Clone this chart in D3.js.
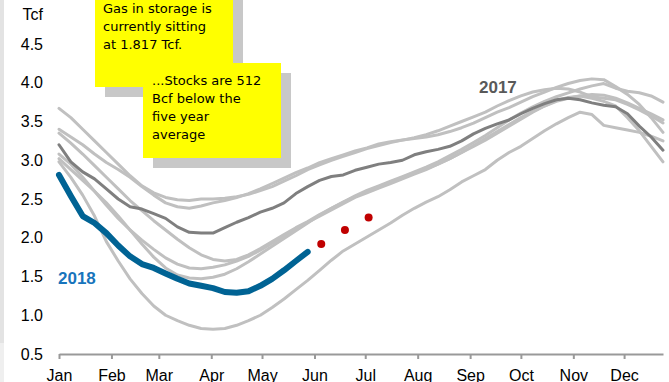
<!DOCTYPE html>
<html>
<head>
<meta charset="utf-8">
<script src="https://cdn.jsdelivr.net/npm/d3@7/dist/d3.min.js"></script>
<style>
  html, body { margin: 0; padding: 0; background: #ffffff; }
  svg { display: block; }
</style>
</head>
<body>
<svg id="chart" width="669" height="382"></svg>
<script>
// Working gas in storage, weekly, Tcf (index 0 = first week of January)
const monthLabels = ["Jan","Feb","Mar","Apr","May","Jun","Jul","Aug","Sep","Oct","Nov","Dec"];
const monthStartDays = [0,31,59,90,120,151,181,212,243,273,304,334];
const yTickValues = [0.5,1.0,1.5,2.0,2.5,3.0,3.5,4.0,4.5];

const s2011 = [3.08,2.95,2.78,2.60,2.42,2.25,2.10,1.97,1.85,1.74,1.66,1.61,1.60,1.62,1.65,1.70,1.76,1.84,1.93,2.02,2.11,2.20,2.28,2.36,2.44,2.52,2.58,2.64,2.70,2.76,2.82,2.88,2.95,3.02,3.10,3.19,3.28,3.37,3.46,3.55,3.63,3.70,3.76,3.80,3.83,3.85,3.84,3.80,3.74,3.67,3.60,3.52];
const s2012 = [3.40,3.30,3.20,3.08,2.97,2.88,2.78,2.66,2.55,2.45,2.40,2.38,2.41,2.45,2.48,2.52,2.57,2.63,2.70,2.77,2.84,2.90,2.97,3.02,3.07,3.12,3.16,3.21,3.24,3.26,3.29,3.33,3.38,3.44,3.50,3.56,3.62,3.70,3.77,3.83,3.88,3.91,3.93,3.92,3.88,3.82,3.80,3.78,3.72,3.65,3.57,3.48];
const s2013 = [3.35,3.22,3.08,2.93,2.78,2.63,2.48,2.35,2.22,2.10,1.98,1.87,1.78,1.72,1.70,1.72,1.78,1.86,1.95,2.04,2.13,2.21,2.30,2.38,2.46,2.53,2.60,2.66,2.72,2.78,2.84,2.89,2.95,3.02,3.10,3.18,3.26,3.35,3.44,3.53,3.62,3.70,3.77,3.81,3.83,3.80,3.76,3.70,3.55,3.38,3.18,2.98];
const s2014 = [2.98,2.78,2.55,2.28,1.95,1.70,1.47,1.28,1.12,1.00,0.93,0.87,0.83,0.82,0.83,0.87,0.93,1.00,1.10,1.21,1.33,1.45,1.58,1.71,1.83,1.92,2.01,2.10,2.19,2.29,2.38,2.46,2.53,2.62,2.72,2.80,2.88,3.00,3.10,3.18,3.28,3.38,3.47,3.55,3.62,3.59,3.45,3.42,3.39,3.36,3.31,3.25];
const s2015 = [3.02,2.88,2.74,2.60,2.45,2.28,2.10,1.92,1.75,1.61,1.52,1.48,1.47,1.49,1.53,1.60,1.69,1.79,1.89,1.99,2.09,2.19,2.29,2.38,2.46,2.54,2.61,2.67,2.73,2.79,2.85,2.91,2.98,3.06,3.14,3.23,3.32,3.42,3.52,3.61,3.69,3.76,3.82,3.87,3.92,3.96,3.99,3.93,3.89,3.87,3.83,3.75];
const s2016 = [3.67,3.55,3.40,3.25,3.10,2.95,2.80,2.67,2.58,2.52,2.49,2.48,2.50,2.50,2.51,2.53,2.56,2.61,2.66,2.73,2.80,2.88,2.94,3.00,3.05,3.10,3.15,3.19,3.23,3.26,3.28,3.30,3.33,3.37,3.42,3.48,3.55,3.62,3.68,3.75,3.82,3.88,3.94,3.99,4.03,4.05,4.04,3.95,3.85,3.72,3.55,3.36];
const s2017 = [3.20,2.98,2.85,2.76,2.63,2.50,2.40,2.37,2.31,2.25,2.14,2.07,2.06,2.06,2.13,2.20,2.26,2.33,2.38,2.45,2.57,2.66,2.74,2.79,2.81,2.87,2.91,2.95,2.97,3.00,3.07,3.11,3.14,3.18,3.25,3.34,3.41,3.47,3.52,3.60,3.67,3.73,3.78,3.80,3.78,3.74,3.71,3.69,3.60,3.44,3.30,3.13];
const s2018 = [2.81,2.54,2.28,2.19,2.06,1.90,1.76,1.66,1.61,1.54,1.47,1.41,1.38,1.35,1.30,1.29,1.31,1.38,1.47,1.58,1.70,1.817];

// Projected points ahead of the 2018 line
const projDays = [155,169,183];
const projValues = [1.92,2.10,2.26];

const pastYears = [s2011, s2012, s2013, s2014, s2015, s2016];

const svg = d3.select("#chart");

// left frame strip
svg.append("rect").attr("x",0).attr("y",0).attr("width",4).attr("height",343).attr("fill","#e3e3e3");
svg.append("rect").attr("x",0).attr("y",343).attr("width",4).attr("height",39).attr("fill","#efefef");

const x = d3.scaleLinear().domain([0, 357]).range([59, 663]);
const y = d3.scaleLinear().domain([0.5, 4.5]).range([354, 44]);

const line = d3.line()
  .x((d, i) => x(i * 7))
  .y(d => y(d));

// y tick labels
const yAxis = d3.axisLeft(y).tickValues(yTickValues).tickFormat(d3.format(".1f")).tickSize(0).tickPadding(4);
const gy = svg.append("g").attr("transform","translate(47,0)").call(yAxis);
gy.select(".domain").remove();
gy.selectAll("text").attr("font-family","'Liberation Sans', Arial, sans-serif").attr("font-size",16).attr("fill","#000");

svg.append("text").attr("x",43).attr("y",20).attr("text-anchor","end")
  .attr("font-family","'Liberation Sans', Arial, sans-serif").attr("font-size",16).attr("fill","#000").text("Tcf");

// x axis
const xAxis = d3.axisBottom(x).tickValues(monthStartDays)
  .tickFormat((d, i) => monthLabels[i]).tickSize(5).tickSizeOuter(0).tickPadding(11);
const gx = svg.append("g").attr("transform","translate(0,354)").call(xAxis);
gx.select(".domain").attr("stroke","#999").attr("stroke-width",2);
gx.selectAll(".tick line").attr("stroke","#999").attr("stroke-width",2);
gx.selectAll("text").attr("font-family","'Liberation Sans', Arial, sans-serif").attr("font-size",16).attr("fill","#000");

// past years
svg.append("g").selectAll("path").data(pastYears).join("path")
  .attr("d", line).attr("fill","none").attr("stroke","#c0c0c0").attr("stroke-width",3)
  .attr("stroke-linejoin","round").attr("stroke-linecap","round");

// 2017
svg.append("path").datum(s2017).attr("d", line).attr("fill","none")
  .attr("stroke","#7f7f7f").attr("stroke-width",3).attr("stroke-linejoin","round").attr("stroke-linecap","round");

// 2018
svg.append("path").datum(s2018).attr("d", line).attr("fill","none")
  .attr("stroke","#006394").attr("stroke-width",6).attr("stroke-linejoin","round").attr("stroke-linecap","round");

svg.append("g").selectAll("circle").data(projDays).join("circle")
  .attr("cx", d => x(d)).attr("cy", (d, i) => y(projValues[i])).attr("r",4).attr("fill","#c00000");

// series labels
svg.append("text").attr("x",58).attr("y",284).attr("font-family","'Liberation Sans', Arial, sans-serif")
  .attr("font-size",17).attr("font-weight","bold").attr("fill","#1874bc").text("2018");
svg.append("text").attr("x",479).attr("y",93).attr("font-family","'Liberation Sans', Arial, sans-serif")
  .attr("font-size",17).attr("font-weight","bold").attr("fill","#595959").text("2017");

// callouts
const noteFont = "'DejaVu Sans', sans-serif";
function callout(x0, y0, w, h, lines, tx, ty0) {
  svg.append("rect").attr("x",x0+10).attr("y",y0+10).attr("width",w).attr("height",h).attr("fill","#c8c8c8");
  svg.append("rect").attr("x",x0).attr("y",y0).attr("width",w).attr("height",h).attr("fill","#ffff00");
  const t = svg.append("text").attr("font-family",noteFont).attr("font-size",13).attr("fill","#000");
  lines.forEach((s, i) => t.append("tspan").attr("x",tx).attr("y",ty0 + i*18).text(s));
}
callout(95, -10, 138, 97, ["Gas in storage is","currently sitting","at 1.817 Tcf."], 103, 13);
callout(143, 63, 138, 95, ["...Stocks are 512","Bcf below the","five year","average"], 152, 85);
</script>
</body>
</html>
